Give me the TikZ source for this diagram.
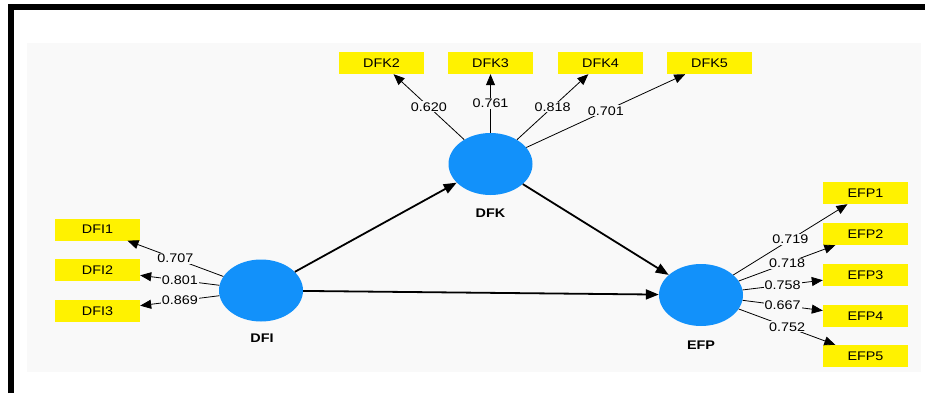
\documentclass[tikz,border=0pt]{standalone}
\usepackage{fontspec}
\setmainfont[FakeStretch=1.15]{Liberation Sans}
\usetikzlibrary{shapes.geometric,arrows.meta}
\definecolor{latentblue}{RGB}{18,145,250}
\definecolor{panelgray}{RGB}{249,249,249}
\begin{document}
\begin{tikzpicture} [x=1pt, y=-1pt,
        latent/.style={ellipse, fill=latentblue, minimum width=84pt, minimum height=62pt, inner sep=0pt},
        lvname/.style={font=\bfseries\fontsize{12.5}{12.5}\selectfont},
        indicator/.style={fill=yellow, minimum width=85pt, minimum height=22pt, inner sep=0pt, font=\fontsize{12.5}{12.5}\selectfont},
        loading/.style={-{Triangle[length=11pt,width=9pt]}, line width=0.8pt},
        weight/.style={fill=panelgray, inner sep=1pt, font=\fontsize{12.5}{12.5}\selectfont},
        structural/.style={-{Triangle[length=13pt,width=10pt]}, line width=1.8pt}]
                \useasboundingbox (0,0) rectangle (925,393);
                \fill[white] (0,0) rectangle (925,393);
                \fill[panelgray] (27,43) rectangle (921,372);
                \draw[line width=6pt] (11,393) -- (11,7) -- (925,7);

                \node[latent] (DFI) at (261,290.5) {};
                \node[latent] (DFK) at (490.5,164) {};
                \node[latent] (EFP) at (701,295) {};
                \node[lvname] (DFIname) at (262,338) {DFI};
                \node[lvname] (DFKname) at (490.5,213) {DFK};
                \node[lvname] (EFPname) at (701,345) {EFP};

                \foreach \n/\x in {2/381.5, 3/490.5, 4/600.5, 5/709.5}
                    \node[indicator] (DFK\n) at (\x,63) {DFK\n};
                \foreach \n/\y in {1/229.5, 2/270, 3/311}
                    \node[indicator] (DFI\n) at (97.5,\y) {DFI\n};
                \foreach \n/\y in {1/193, 2/234, 3/275, 4/316, 5/356}
                    \node[indicator] (EFP\n) at (865.5,\y) {EFP\n};

                \foreach \n/\w in {2/0.620, 3/0.761, 4/0.818, 5/0.701}
                    \draw[loading] (DFK) -- node[weight] (wDFK\n) {\w} (DFK\n);
                \foreach \n/\w in {1/0.707, 2/0.801, 3/0.869}
                    \draw[loading] (DFI) -- node[weight] (wDFI\n) {\w} (DFI\n);
                \foreach \n/\w in {1/0.719, 2/0.718, 3/0.758, 4/0.667, 5/0.752}
                    \draw[loading] (EFP) -- node[weight] (wEFP\n) {\w} (EFP\n);

                \draw[structural] (DFI) -- (DFK);
                \draw[structural] (DFI) -- (EFP);
                \draw[structural] (DFK) -- (EFP);
            \end{tikzpicture}
\end{document}
